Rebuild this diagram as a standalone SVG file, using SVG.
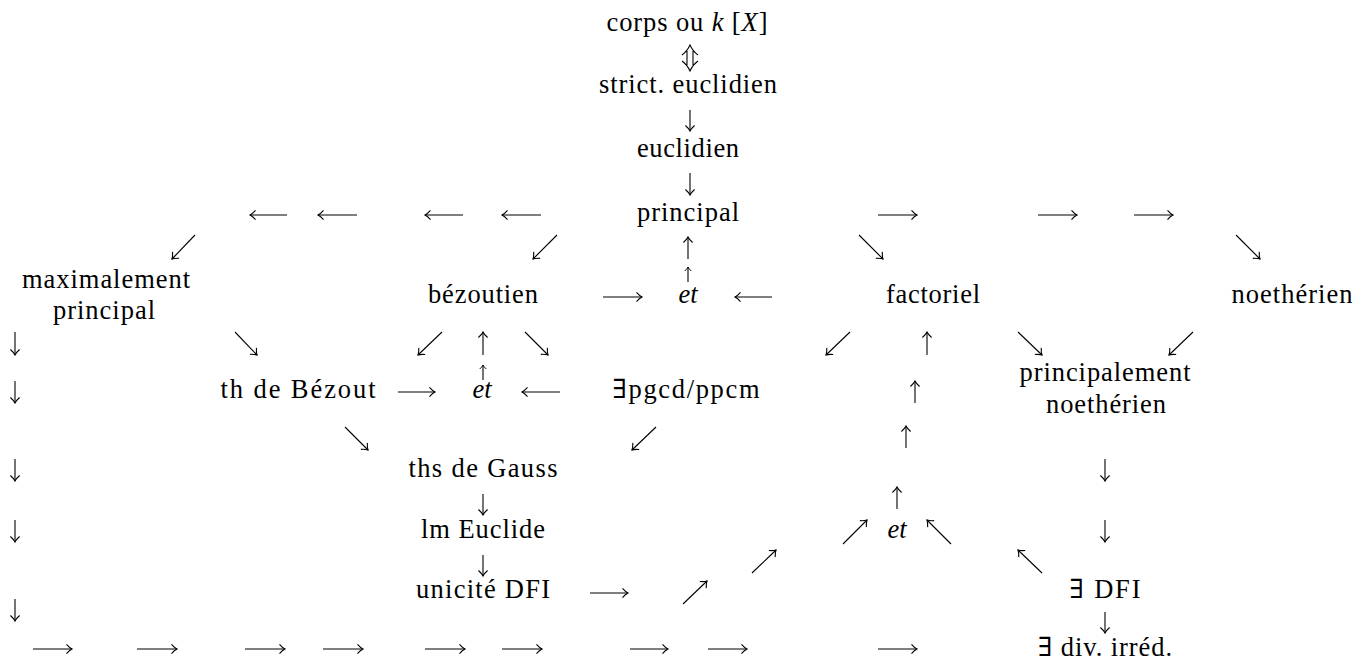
<svg xmlns="http://www.w3.org/2000/svg" width="1356" height="669" viewBox="0 0 1356 669">
<defs>
<style>
.t{font-family:"Liberation Serif","Times New Roman","DejaVu Serif",serif;font-size:26.5px;fill:#000;text-anchor:middle}
.i{font-style:italic}
.c line,.c path{stroke:#000;stroke-width:1.1;fill:none}
</style>
<marker id="ah" markerUnits="userSpaceOnUse" viewBox="-8 -7 10 14" markerWidth="10" markerHeight="14" refX="0" refY="0" orient="auto" overflow="visible">
<path d="M-5.5,-4.6 Q-2.6,-1.3 0,0 Q-2.6,1.3 -5.5,4.6" stroke="#000" stroke-width="1.1" fill="none"/>
</marker>
<marker id="as" markerUnits="userSpaceOnUse" viewBox="-8 -7 10 14" markerWidth="10" markerHeight="14" refX="0" refY="0" orient="auto" overflow="visible">
<path d="M-4,-3.3 Q-1.9,-0.9 0,0 Q-1.9,0.9 -4,3.3" stroke="#000" stroke-width="0.9" fill="none"/>
</marker>
</defs>
<rect width="1356" height="669" fill="#fff"/>

<g id="n-corps"><text class="t" x="687" y="31" textLength="161" lengthAdjust="spacing">corps ou <tspan class="i">k</tspan> [<tspan class="i">X</tspan>]</text></g>
<g id="n-strict"><text class="t" x="688" y="93" textLength="178" lengthAdjust="spacing">strict. euclidien</text></g>
<g id="n-euclidien"><text class="t" x="688" y="157" textLength="102" lengthAdjust="spacing">euclidien</text></g>
<g id="n-principal"><text class="t" x="688" y="221" textLength="102" lengthAdjust="spacing">principal</text></g>
<g id="n-maxprincipal"><text class="t" x="106" y="288" textLength="168" lengthAdjust="spacing">maximalement</text><text class="t" x="104" y="319" textLength="102" lengthAdjust="spacing">principal</text></g>
<g id="n-bezoutien"><text class="t" x="483" y="303" textLength="110" lengthAdjust="spacing">bézoutien</text></g>
<g id="n-et1"><text class="t i" x="688" y="303">et</text></g>
<g id="n-factoriel"><text class="t" x="933" y="303" textLength="94" lengthAdjust="spacing">factoriel</text></g>
<g id="n-noetherien"><text class="t" x="1292" y="303" textLength="121" lengthAdjust="spacing">noethérien</text></g>
<g id="n-thbezout"><text class="t" x="298" y="398" textLength="155" lengthAdjust="spacing">th de Bézout</text></g>
<g id="n-et2"><text class="t i" x="482" y="398">et</text></g>
<g id="n-pgcd"><text class="t" x="686" y="398" textLength="147" lengthAdjust="spacing">∃pgcd/ppcm</text></g>
<g id="n-princnoeth"><text class="t" x="1105" y="381" textLength="171" lengthAdjust="spacing">principalement</text><text class="t" x="1106" y="413" textLength="120" lengthAdjust="spacing">noethérien</text></g>
<g id="n-gauss"><text class="t" x="483" y="477" textLength="149" lengthAdjust="spacing">ths de Gauss</text></g>
<g id="n-euclide"><text class="t" x="483" y="538" textLength="124" lengthAdjust="spacing">lm Euclide</text></g>
<g id="n-et3"><text class="t i" x="897" y="538">et</text></g>
<g id="n-unicite"><text class="t" x="483" y="598" textLength="134" lengthAdjust="spacing">unicité DFI</text></g>
<g id="n-dfi"><text class="t" x="1105" y="598" textLength="71" lengthAdjust="spacing">∃ DFI</text></g>
<g id="n-divirr"><text class="t" x="1105" y="656" textLength="134" lengthAdjust="spacing">∃ div. irréd.</text></g>

<g id="connectors" class="c">
<path d="M687,51 V65 M693,51 V65 M682,55 Q687,51.5 690,45 Q693,51.5 698,55 M682,61 Q687,64.5 690,71 Q693,64.5 698,61"/>
<line x1="690" y1="110" x2="690" y2="131" marker-end="url(#ah)"/>
<line x1="690" y1="173" x2="690" y2="195" marker-end="url(#ah)"/>
<line x1="287" y1="215" x2="250" y2="215" marker-end="url(#ah)"/>
<line x1="357" y1="215" x2="318" y2="215" marker-end="url(#ah)"/>
<line x1="463" y1="215" x2="425" y2="215" marker-end="url(#ah)"/>
<line x1="541" y1="215" x2="502" y2="215" marker-end="url(#ah)"/>
<line x1="878" y1="215" x2="917" y2="215" marker-end="url(#ah)"/>
<line x1="1038" y1="215" x2="1077" y2="215" marker-end="url(#ah)"/>
<line x1="1134" y1="215" x2="1173" y2="215" marker-end="url(#ah)"/>
<line x1="195" y1="235" x2="172" y2="259" marker-end="url(#ah)"/>
<line x1="557" y1="235" x2="533" y2="259" marker-end="url(#ah)"/>
<line x1="688" y1="259" x2="688" y2="237" marker-end="url(#ah)"/>
<line x1="859" y1="235" x2="883" y2="259" marker-end="url(#ah)"/>
<line x1="1236" y1="235" x2="1260" y2="259" marker-end="url(#ah)"/>
<line x1="688" y1="282" x2="688" y2="267" marker-end="url(#as)"/>
<line x1="603" y1="297" x2="642" y2="297" marker-end="url(#ah)"/>
<line x1="772" y1="297" x2="735" y2="297" marker-end="url(#ah)"/>
<line x1="15" y1="332" x2="15" y2="355" marker-end="url(#ah)"/>
<line x1="235" y1="332" x2="257" y2="355" marker-end="url(#ah)"/>
<line x1="442" y1="332" x2="418" y2="355" marker-end="url(#ah)"/>
<line x1="483" y1="355" x2="483" y2="332" marker-end="url(#ah)"/>
<line x1="525" y1="332" x2="548" y2="355" marker-end="url(#ah)"/>
<line x1="850" y1="332" x2="826" y2="355" marker-end="url(#ah)"/>
<line x1="927" y1="355" x2="927" y2="332" marker-end="url(#ah)"/>
<line x1="1018" y1="332" x2="1042" y2="355" marker-end="url(#ah)"/>
<line x1="1193" y1="332" x2="1169" y2="355" marker-end="url(#ah)"/>
<line x1="483" y1="380" x2="483" y2="365" marker-end="url(#as)"/>
<line x1="15" y1="381" x2="15" y2="403" marker-end="url(#ah)"/>
<line x1="398" y1="392" x2="435" y2="392" marker-end="url(#ah)"/>
<line x1="560" y1="392" x2="522" y2="392" marker-end="url(#ah)"/>
<line x1="915" y1="403" x2="915" y2="381" marker-end="url(#ah)"/>
<line x1="345" y1="427" x2="368" y2="450" marker-end="url(#ah)"/>
<line x1="656" y1="427" x2="632" y2="450" marker-end="url(#ah)"/>
<line x1="906" y1="448" x2="906" y2="426" marker-end="url(#ah)"/>
<line x1="15" y1="459" x2="15" y2="481" marker-end="url(#ah)"/>
<line x1="1105" y1="459" x2="1105" y2="481" marker-end="url(#ah)"/>
<line x1="483" y1="494" x2="483" y2="515" marker-end="url(#ah)"/>
<line x1="897" y1="509" x2="897" y2="487" marker-end="url(#ah)"/>
<line x1="15" y1="520" x2="15" y2="542" marker-end="url(#ah)"/>
<line x1="1105" y1="520" x2="1105" y2="542" marker-end="url(#ah)"/>
<line x1="843" y1="544" x2="867" y2="520" marker-end="url(#ah)"/>
<line x1="951" y1="544" x2="927" y2="520" marker-end="url(#ah)"/>
<line x1="483" y1="555" x2="483" y2="576" marker-end="url(#ah)"/>
<line x1="752" y1="573" x2="776" y2="550" marker-end="url(#ah)"/>
<line x1="1042" y1="573" x2="1018" y2="550" marker-end="url(#ah)"/>
<line x1="590" y1="593" x2="628" y2="593" marker-end="url(#ah)"/>
<line x1="683" y1="604" x2="707" y2="581" marker-end="url(#ah)"/>
<line x1="15" y1="599" x2="15" y2="621" marker-end="url(#ah)"/>
<line x1="1105" y1="612" x2="1105" y2="633" marker-end="url(#ah)"/>
<line x1="33" y1="649" x2="72" y2="649" marker-end="url(#ah)"/>
<line x1="137" y1="649" x2="177" y2="649" marker-end="url(#ah)"/>
<line x1="245" y1="649" x2="285" y2="649" marker-end="url(#ah)"/>
<line x1="323" y1="649" x2="363" y2="649" marker-end="url(#ah)"/>
<line x1="425" y1="649" x2="465" y2="649" marker-end="url(#ah)"/>
<line x1="502" y1="649" x2="542" y2="649" marker-end="url(#ah)"/>
<line x1="630" y1="649" x2="668" y2="649" marker-end="url(#ah)"/>
<line x1="708" y1="649" x2="747" y2="649" marker-end="url(#ah)"/>
<line x1="878" y1="649" x2="917" y2="649" marker-end="url(#ah)"/>
</g>
</svg>
